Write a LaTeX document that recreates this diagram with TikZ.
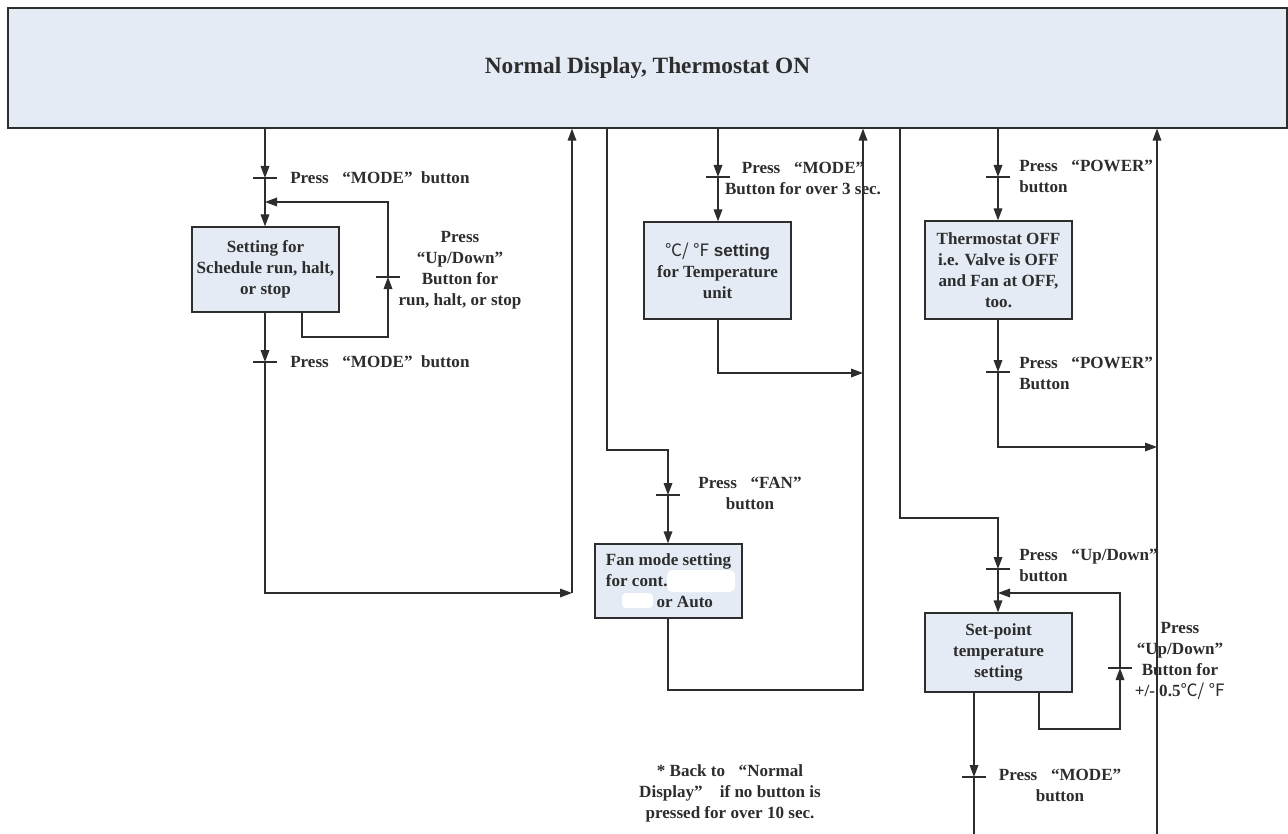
\documentclass[tikz,border=0pt]{standalone}
\usepackage{fontspec}
\setmainfont{Liberation Serif}
\newfontfamily\cjk{Noto Sans CJK SC}
\newfontfamily\arialf{Liberation Sans}
\usetikzlibrary{arrows.meta,calc}
\definecolor{boxfill}{RGB}{228,235,245}
\definecolor{ln}{RGB}{45,45,45}
\newcommand\oq{\hspace{0.8em}“}
\newcommand\cq{”\hspace{0.5em}}
\begin{document}
\begin{tikzpicture}[x=0.75pt,y=-0.75pt,
  box/.style={draw=ln, fill=boxfill, line width=0.9pt, align=center, text=ln,
    font=\bfseries\fontsize{12.8}{15.75}\selectfont, inner sep=1pt,
    minimum width=110.25pt},
  conn/.style={draw=ln, line width=0.9pt},
  arr/.style={conn, -{Triangle[length=9pt,width=6.5pt]}},
  lbl/.style={font=\bfseries\fontsize{12.8}{15.75}\selectfont, text=ln, inner sep=0pt},
  tickmark/.style={draw=ln, line width=0.9pt}]
\useasboundingbox (0,0) rectangle (1288,834);

% top box
\node[draw=ln, fill=boxfill, line width=0.9pt, minimum width=959.25pt, minimum height=90pt,
  font=\bfseries\fontsize{17.5}{20}\selectfont, text=ln] (top) at (647.5,68) {Normal Display, Thermostat ON};

% boxes
\node[box, minimum height=63.75pt] (b1) at (265.5,269.5) {Setting for\\Schedule run, halt,\\or stop};
\node[box, minimum height=72.75pt] (temp) at (717.5,270.5) {{\cjk\mdseries ℃/ ℉} {\arialf setting}\\for Temperature\\unit};
\node[box, minimum height=73.5pt] (therm) at (998.5,270) {Thermostat OFF\\i.e. Valve is OFF\\and Fan at OFF,\\too.};
\node[box, minimum height=55.5pt, align=left] (fan) at (668.5,581) {Fan mode setting\\for cont.\\\hspace*{38pt}or Auto};
\node[box, minimum height=59.25pt] (sp) at (998.5,652.5) {Set-point\\temperature\\setting};
\fill[white, rounded corners=4pt] (667,570) rectangle (735,592);
\fill[white, rounded corners=3pt] (622,593) rectangle (653,608);

% coordinates
\coordinate (t1) at (265,178);
\coordinate (j1) at (265,202);
\coordinate (lp1) at (302,337);
\coordinate (lp2) at (388,337);
\coordinate (t1b) at (388,277);
\coordinate (t2) at (265,362);
\coordinate (c1) at (265,593);
\coordinate (c2) at (572,593);
\coordinate (m1) at (607,450);
\coordinate (m2) at (668,450);
\coordinate (t3) at (668,495);
\coordinate (f1) at (668,690);
\coordinate (f2) at (863,690);
\coordinate (t4) at (718,177);
\coordinate (u1) at (718,373);
\coordinate (u2) at (863,373);
\coordinate (t5) at (998,177);
\coordinate (t6) at (998,372);
\coordinate (p1) at (998,447);
\coordinate (p2) at (1157,447);
\coordinate (v1) at (1157,834);
\coordinate (r1) at (900,518);
\coordinate (r2) at (998,518);
\coordinate (t7) at (998,569);
\coordinate (j2) at (998,593);
\coordinate (q1) at (1039,729);
\coordinate (q2) at (1120,729);
\coordinate (t8) at (1120,668);
\coordinate (t9) at (974,777);
\coordinate (v2) at (974,834);

% left column
\draw[arr] (top.south -| t1) -- (t1);
\draw[arr] (t1) -- (b1.north -| t1);
\draw[arr] (b1.south -| lp1) -- (lp1) -- (lp2) -- (t1b);
\draw[arr] (t1b) |- (j1);
\draw[arr] (b1.south -| t2) -- (t2);
\draw[arr] (t2) -- (c1) -- (c2);
\draw[arr] (c2) -- (top.south -| c2);

% middle
\draw[arr] (top.south -| m1) -- (m1) -- (m2) -- (t3);
\draw[arr] (t3) -- (fan.north -| t3);
\draw[arr] (fan.south -| f1) -- (f1) -- (f2) -- (top.south -| f2);
\draw[arr] (top.south -| t4) -- (t4);
\draw[arr] (t4) -- (temp.north -| t4);
\draw[arr] (temp.south -| u1) -- (u1) -- (u2);

% right
\draw[arr] (top.south -| t5) -- (t5);
\draw[arr] (t5) -- (therm.north -| t5);
\draw[arr] (therm.south -| t6) -- (t6);
\draw[arr] (t6) -- (p1) -- (p2);
\draw[arr] (v1) -- (top.south -| v1);
\draw[arr] (top.south -| r1) -- (r1) -- (r2) -- (t7);
\draw[arr] (t7) -- (sp.north -| t7);
\draw[arr] (sp.south -| q1) -- (q1) -- (q2) -- (t8);
\draw[arr] (t8) |- (j2);
\draw[arr] (sp.south -| t9) -- (t9);
\draw[conn] (t9) -- (v2);

% ticks
\foreach \t in {t1,t1b,t2,t3,t4,t5,t6,t7,t8,t9}
  \draw[tickmark] ([xshift=-9pt]\t) -- ([xshift=9pt]\t);

% labels
\node[lbl, anchor=west] (l1) at (290,178) {Press\oq MODE\cq button};
\node[lbl, align=center] (l2) at (460,270.5) {Press\\“Up/Down”\\Button for\\run, halt, or stop};
\node[lbl, anchor=west] (l3) at (290,362) {Press\oq MODE\cq button};
\node[lbl, align=center] (l4) at (803,178) {Press\oq MODE”\\Button for over 3 sec.};
\node[lbl, align=center] (l5) at (750,493) {Press\oq FAN”\\button};
\node[lbl, align=left, anchor=west] (l6) at (1019,176.5) {Press\oq POWER”\\button};
\node[lbl, align=left, anchor=west] (l7) at (1019,373.5) {Press\oq POWER”\\Button};
\node[lbl, align=left, anchor=west] (l8) at (1019,565.5) {Press\oq Up/Down”\\button};
\node[lbl, align=center] (l9) at (1180,661) {Press\\“Up/Down”\\Button for\\+/- 0.5{\cjk\mdseries ℃/ ℉}};
\node[lbl, align=center] (l10) at (1060,785.5) {Press\oq MODE”\\button};
\node[lbl, align=center] (note) at (730,793) {* Back to\oq Normal\\Display”\hspace{1em}if no button is\\pressed for over 10 sec.};
\end{tikzpicture}
\end{document}
